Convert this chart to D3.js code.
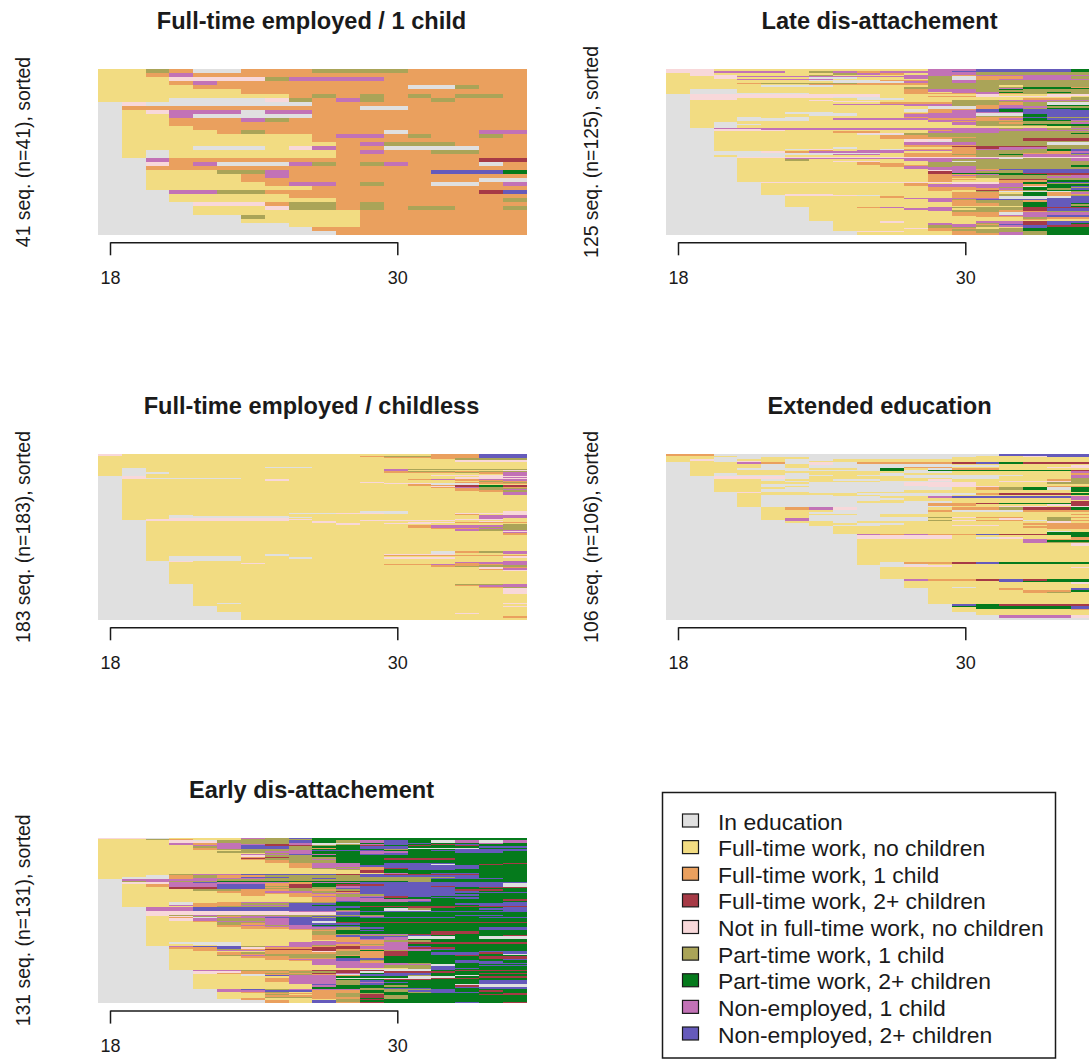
<!DOCTYPE html>
<html>
<head>
<meta charset="utf-8">
<script src="https://cdn.jsdelivr.net/npm/d3@7/dist/d3.min.js"></script>
<style>
  html, body { margin: 0; background: #fff; overflow: hidden; }
  svg { display: block; }
  text { font-family: "Liberation Sans", Arial, sans-serif; fill: #1a1a1a; }
</style>
</head>
<body>
<div id="chart"></div>
<script>
// state codes, one letter per year of age in the row strings below
const stateCodes = ["E", "F", "O", "T", "N", "P", "G", "M", "L"];
const stateLabels = ["In education", "Full-time work, no children", "Full-time work, 1 child",
  "Full-time work, 2+ children", "Not in full-time work, no children", "Part-time work, 1 child",
  "Part-time work, 2+ children", "Non-employed, 1 child", "Non-employed, 2+ children"];
const stateColors = ["#e0e0e0", "#f2dc82", "#eaa05e", "#a63a46", "#f8d8da", "#aaa458", "#057a1c", "#c272b6", "#655abb"];

const firstAge = 18;
const lastAge = 35;
const tickAges = [18, 30];

// rows top to bottom, "n:" in front means the same row n times
const fullTime1Child = [
  "FFPOEEOOOPPPPOOOOO","FFOMOOOOOOOOOOOOOO","FFFNNNNPMMMMOOOOOO","FFFOMOOOOOOOOOOOOO",
  "FFFFOOOOOOOOOEEPOO","FFFFFFOOOOOOOOOOOO","FFFFFFFFOPOPOPOPPO","FFFEEEENPOMPOOPOOO",
  "ENEEEEEEEOOOOOOOOO","EOOOOOOOOOOEEOOOOO","EFNMMMEMMOOOOOOOOO","EFFMEEEEEOOOOOOOOO",
  "EFFOOOMPOOOOOOOOOO","EFFOOOOOOOOOOOOOOO","EFFFOOOOOOOOOOOOOO","EFFFFOPOOOOOEOOOMM",
  "EFFFFFFFFOMMOPOOPO","EFFFFFFFFOOOOOOOOO","EFFFFFFFFFOMPPPOOO","EFFFEEEFNMOOEEEEOO",
  "EFEFFFFFFFOMOOPPOO","EFEFFFFFFFOOOOOOOO","EEMOOOOOOOOOOOOOTT","EENOMEEEMPOPMOOOEO",
  "EEOOOOOOOOOOOOOOOO","EEFFFPPMOOOOOOLLLG","EEFFFFOMOOOOOOOOOO","EEFFFFOOOOOOOOOOEE",
  "EEFFFFFOMMOPOOEEOM","EEFFFFFFFOOOOOOOOO","EEEMMPPOOOOOOOOOTL","EEEFFFFFOOOOOOOOOO",
  "EEEFFFFFFFOOOOOOOP","EEEENNNOPPOPOOOOOO","EEEEFFFNPPOPOPPOOP","EEEEFFFFFFFOOOOOOO",
  "EEEEEEPFFFFOOOOOOO","EEEEEEFFFFFOOOOOOO","EEEEEEEEFFFOOOOOOO","EEEEEEEEEOOOOOOOOO",
  "EEEEEEEEEEOOOOOOOO"
];

const lateDisattachment = [
  "NNFFFFFFFFFMMLLLLG","NNMMMFPMOMMMLLLLLG","NNMMMFPMOMMMMPPPPP","FNFFFFFPMOFMMPPPPP",
  "FNNFFFPFFFMMOMMMMM","FFNMMMMMMMMPEOOMMP","FFNFFFEEFFMPEOOMMP","FFFMMMMFFFFPEOMMMM",
  "FFFFFFEEEOOPMPPPPP","FFFFFFFEEEMPMPPPPP","FFFOPPPPOOOPPPPPPP","FFFFFFOOOOOPPPPPPP",
  "FFFFEEEFFFFPPPFPPP","FFFFFFFFFFPPPPPGGO","FFFFFFFFFFPPPPMGGG","FEEFFFFFFFOMMPGPPP",
  "FEEFFFFFFFOMMPPPPP","FEEFFFFFFFOFMMGPGP","FEEEEEFFFFOOOMOPPP",
  "ENNNNNNNNFFFFNFFNN","ENNNNNNNNFFOONNNNF","ENNNNNNEEFFFFFFFFP","ENNFFFFFEEFFFFFOOP",
  "EFFFFFNFFFFFPPMMMM","EFFFFFFNNFFFPPPMPP","EFFFFFFFFOOOPPOPEE","EFFFFFFMMMMMPPOPEE",
  "EFFFFFFFFFMMPOMPGG","EFFFFFFFFFFEEOMMPP","EFFFFFFFFFFEEOLPGG","EFFFFFFFFFEOOLGLLG",
  "EFFFFFFFFFEOMLGLLL","EFFFFEEFFFFOMMMLLL","EFFFFEEEFFOMMEELLL","EFFFFFEEFFMMMEEGLL",
  "EFFFFFFFFFMMMPPGLL","EFFEFEFFFFOMMOOLPP","EFFEEEFMMMMOOOMGLL","EFFEEEFFFFFMMOOGGM",
  "EFFFFFFFFFFMOPPPPP","EFEFFFFFFFFFMPOPPM","EFEEFFFFFFFFMPPGGG","EFEFFFFFFFFFFPPPGG",
  "EFEFFFFFFFFFFFFFFP",
  "EEMMMMMMMMMMMMPMPM","EENNMMMMMMMMMMMMPP","EENNNFFFFFFOMMMMMM","EEFFFFFOOFFMMMPPPP",
  "EEFFFFFFNNPPPPPPPG","EEFFFFFFEEPPPPPPPP","EEFFFFFFFOOPPPPPPP","EEFFFFFFFOOOOPPPPP",
  "EEFFFFFFFOOOPPPTTT","EEFFFFFFFFNNPPPTTT","EEFFFFFFFFNEPPPPPP","EEFFFFFFFFMMMPPPEE",
  "EEFFFFFFFFMMMPPPEE","EEFFFFFFFFOOOPPPPP","EEFFFFFFFFOOTTTTPP","EEFFFFFEFFFFOTMMPP",
  "EEFFFENFFEOOOMMPGL","EEFFFFOFMMMMOPPPGL","EEEENOMMMMFFOPPPOM","EEEEEEEEEFOOOPPOOL",
  "EEEEEEEMMFOOPPGMMP","EEFEEFFFFFOOOPPMMM",
  "EEENNNNNNNNNNNNNNN","EEEFFMMMMMMMMMEPPM","EEEFFPFFFFMMPPPPPM","EEEFFFFNNFFMEPPPPP",
  "EEEFFFFFOFFPPPPPPP","EEEFFFFFOOFPPPPPPP","EEEFFFFFFOOPPPPPPG","EEEFFFFFFOMPMPPPPG",
  "EEEFFFFFFFMMMPPPPP","EEEFFFFFFFFMMOLLLL","EEEFFFFFFFFNMMPLLL","EEEFFFFFFFFTMPPLLL",
  "EEEFFFFFFFFTGGGTTT","EEEFFFFFFFFOOMGGTT","EEEFFFFFFFFOMPPPPM","EEEFFFFFFFFOOPPPMM",
  "EEEFFFFFFFFOFFPPPP","EEEFFFFFFFFOOFTTPP","EEEFFFFFFFFOFFOOGG",
  "EEEENNNNNNNNNNOGLL","EEEEFFFFFFOFNNMGPP","EEEEFFFFFFOMMMMOGG","EEEEFFFFFFFMMMMNGL",
  "EEEEFFFFFFFOOMPGGP","EEEEFFFFFFFOOOMGPL","EEEEFFFFFFFOFTOPGG","EEEEFFFFFFFFFPEEEP",
  "EEEEFFFFFFFFOOFGOM","EEEEFNNFFFFFOOPGOO",
  "EEEEENNNEFFFOOPGOP","EEEEEFFFFOFFOOEEEL","EEEEEFFFFFMMMMEELL","EEEEEFFFFFFMPLLLLL",
  "EEEEEFFFFFFMOPPOLL","EEEEEFFFFFFFOPPGLL","EEEEEFFFFFFFOOPGLG","EEEEEFFFFFFFOOPGLP",
  "EEEEEFFFFFFFFFFGLG",
  "EEEEEEFFOMFMPPPTTT","EEEEEEFFFFMMFPPTLL","EEEEEEFFFFFMPPOTLL","EEEEEEFFFFFFPPOOPP",
  "EEEEEEFFFFFFOOEMMM","EEEEEEFFFFFFOOEMMM","EEEEEEFFFFFFOOMMLL","EEEEEEFFFFFFFOOMLL",
  "EEEEEEFFFFFFFFFPOO","EEEEEEFFFFFFFFFOFF","EEEEEEFFFFFFFFFFFF",
  "EEEEEEEFFNFFFMMTLL","EEEEEEEFFFFMFPMTLG","EEEEEEEFFFFMMOLTLT","EEEEEEEFFFFPMPMLTT",
  "EEEEEEEFFFFPPFFLGG","EEEEEEEFFFNOOFPGGG","EEEEEEEFFFFOPPPGGG",
  "EEEEEEEENNFFOPPPGG","EEEEEEEEFFFFOPMPGG","EEEEEEEEFFFFOOMPGG"
];

const fullTimeChildless = [
  "2:NFFFFFFFFFFFFFOOLL","FFFFFFFFFFFOPPOOLL","FFFFFFFFFFFFOOOOLL","FFFFFFFFFFFFFFOPPP",
  "FFFFFFFFFFFFFFFPPP","2:FFFFFFFFFFFFFFFNNN","FFFFFFFFFFFFFFFFFO","5:FFFFFFFFFFFFFFFFFF",
  "FFFFFFFEEFFFFFFFFF","FEFFFFFFFFFFFFFFFF","FEFFFFFFFFFFMPPPPP","FEFFFFFFFFFFMFFFFN",
  "FEFFFFFFFFFFFFFFFN","FEFFFFFFFFFFOPPOPP","FEEFFFFFFFFFOOOPOM","FEEFFFFFFFFFFFFFOM",
  "FEFFFFFFFFFFFFFFFM","FEFFFFFFFFFFFFNNNM",
  "ENFFFFFFFFFFFFFFNN","ENFFFFFFFFFFFFFNNM","ENEEEEFFFFFFFFFNNN","EFFFFFFNFFFFFOMOMM",
  "EFFFFFFNFFFFFFFOOM","EFFFFFFNFFFFFFFMMM","EFFFFFFFFFFFFFFFPO","EFFFFFFFFFFNFFFOOP",
  "EFFFFFFFFFFFNNEEOO","EFFFFFFFFFFFFOEEFF","EFFFFFFFFFFFFOOTGT","EFFFFFFFFFFFFFNTGT",
  "EFFFFFFFFFFFFFOMPO","EFFFFFFFFFFFFFFOPP","2:EFFFFFFFFFFFFFFOPM","EFFFFFFFFFFFFFFOOP",
  "EFFFFFFFFFFFFFFFOP","3:EFFFFFFFFFFFFFFFFM","4:EFFFFFFFFFFFFFFFFF","EFFFFFFFFFFFFFFFFT",
  "13:EFFFFFFFFFFFFFFFFF","2:EFFFFFFFFFFEEFFFFN","EFFFFFFFEENNEFFNNN","EFFFFFFFFFFFFFFOFN",
  "EFFEFFFFFFFFFFFFMM","EFFEEEEEFFFFFFFFMM","EFFEEEEEEFFFFFFFMM","EFFEEEEEEFFFFFFOFF",
  "EFFNNNNNFFFFFFFFMF","EFNNNNNNNFFFFFFNNF",
  "EENNNNNNFFFNNNNFFF","EEFFFFFFFNFFFFFFNF","EEFFFFFFFNFFFNNOOO","EEFFFFFFFFNFNNFFFF",
  "EEFFFFFFFFNFFFFFFP","2:EEFFFFFFFFFFFOMMMP","EEFFFFFFFFFFFOMMPP","EEFFFFFFFFFFFFOOPP",
  "EEFFFFFFFFFFFFOOMP","EEFFFFFFFFFFFFFMPP","EEFFFFFFFFFFFFFMPM","EEFFFFFFFFFFFFFFFN",
  "EEFFFFFFFFFFFFFFFM","2:EEFFFFFFFFFFFFFFFO","18:EEFFFFFFFFFFFFFFFF",
  "2:EEFFFFFFFFFFFFEOPM","EEFFFFFFFFFFFFEFFM","EEFFFFFEFFFFNNNFFF","EEFFFFFEFFFFOOOOOO",
  "EEFFFFFFFFFFFFFFFF","EEFEEEFFFFFFFFFFFN","EEFEEEFFEFFFNNNFFN","EEFEEEFFEFFFNNNFFF",
  "2:EEFEEEFFFFFFFFFFFF",
  "EEENFFFFFFFFFFFFFM","EEEFFFFFFFFFFFFMMM","EEEFFFNFFFFFFFFOMM","EEEFFFFFFFFFOOMOOM",
  "EEEFFFFFFFFFOMOOMM","EEEFFFFFFFFFFFOOPP","EEEFFFFFFFFFFFOPPP","EEEFFFFFFFFFFFFFNO",
  "EEEFFFFFFFFFFFFFNM","EEEFFFFFFFFFFFFFOM","EEEFFFFFFFFFFFFFFN","14:EEEFFFFFFFFFFFFFFF",
  "EEEEFFFFFFFFOPPPPP","EEEEFFFFFFFFFFFPPM","EEEEFFFFFFFFFFFOMM","EEEEFFFFFFFFFFFFMM",
  "EEEEFFFFFFFFFFFFOP","7:EEEEFFFFFFFFFFFFFN","9:EEEEFFFFFFFFFFFFFF","EEEEFFFFFFFFFFFFFN",
  "EEEEFEFFFFFFFFFFFN","2:EEEEFFFFFFFFFFFFFF",
  "EEEEEFFFFFFFFFFFFN","5:EEEEEFFFFFFFFFFFFF",
  "EEEEEENNFFFFFFFFFF","EEEEEEFFFFFFFFFFFF","EEEEEEFFFFFFFFFNFF","2:EEEEEEFFFFFFFFFFFF",
  "2:EEEEEEFFFFFFFFFFFO","2:EEEEEEFFFFFFFFFFFF"
];

const extendedEducation = [
  "OOEEEEEEEEEEEELLLL","FFFEEEEEEEEEEFFNLL","FFEEFFEEEEEEFFFFFF","FNEFFEEFFFFFFFFFFF",
  "FFENFEFFFFFFFFFFFF",
  "EFFMOENEOOOOTLGTTT","EFFFEFNEEEEEFFFFFF","EFFFEFEEEEEEEEFFFN","EFFFEFEEEEOOFFFFNN",
  "EFFEEEFFEGFEOOFFFF","EFFFFEEEEGEGGGGGGT","EFFFFFFFFFEEFFFFFM","EFEFFEFFFEFFFFFFFO",
  "EFEEEEEFEEEEEEEFFM",
  "EENNNEFFFFEEEEFFFM","EENNNEFFFFFFEEFFFP","EEFFEFFEEFFNFFFFOP","EEFFFEFFFEEEFFNNNP",
  "EEFFFFEEEENNNFFFPP","EEFFEEEEEENNNFFFFF","EEFFEFEEEEENNNFFOO","EEFFFEEEEEEEFOPGEG",
  "EEFFEEEEEEEEFOPGEG","EEFFEEEEEEFFFFFFFG",
  "EEENFFEEFFFFFFFFFF","EEEFFFFFEEEEEOTTTG","EEEFEEEFFEEEFFFFFF","EEEFEEEEEFFMLLLLLM",
  "EEEFEEEEEEFFFFFFFM","EEEFEEEEEFFFFFFFFF","EEEFEEEEFFEEFFFFFT","EEEFEEEEEEEOOTGGGT",
  "EEEFEEEEEEEOOFFFNT","EEEFEEEEEEEEFFNNFN",
  "EEEEFOMNEEEFOOPTTG","EEEEFOMNEEEFOOPTTG","EEEEFFFEEEEOEEEOOO","EEEEFFEEEEEFFFFFFF",
  "EEEEFFFFEFFFFFFFFO","EEEEFFEEEFFFFFFFFF","EEEEFFEEEEEPNOOFPO","EEEEFMEEEEEFFFNFPF",
  "EEEEEMEEEEEPNOOEPO","EEEEEFFEFFFFFFFFNF","EEEEEEFFEEFFFFFOOO","EEEEEEFEEFFFNNFFOO",
  "EEEEEEEFFFFFFFFOOO","EEEEEEEFFFFFFFFFOO","EEEEEEEFFFFFFFFFFF","EEEEEEEFFFFFFFFFEF",
  "EEEEEEEFFFFFFFFFGG",
  "EEEEEEEEMOMOOLTTGG","EEEEEEEENNNNFFFFFG","EEEEEEEENNNNFENFFO","EEEEEEEEFFFFFFFMOO",
  "EEEEEEEEFFFFFFFMGG","EEEEEEEEFFFFFFFMPP","2:EEEEEEEEFFFFFFFFFN","10:EEEEEEEEFFFFFFFFFF",
  "EEEEEEEEFEOOTLGGGG","EEEEEEEEFEEFFFFFFF","EEEEEEEEEENNFFFFFF","EEEEEEEEEFFFFFFFFN",
  "7:EEEEEEEEEFFFFFFFFF",
  "EEEEEEEEEEMOOTLTGG","EEEEEEEEEEFFFFLGGG","EEEEEEEEEEFFFFFFFN","2:EEEEEEEEEEFFFFFFFF",
  "EEEEEEEEEEFFEFFFFF",
  "EEEEEEEEEEEFFFOFFL","EEEEEEEEEEEFFFFOOG","EEEEEEEEEEEFFFFOPF","7:EEEEEEEEEEEFFFFFFF",
  "EEEEEEEEEEEELGTTTT","EEEEEEEEEEEEGGGGGL","EEEEEEEEEEEEFGGGGL","EEEEEEEEEEEEFFFFFO",
  "EEEEEEEEEEEEFFFFFF","2:EEEEEEEEEEEEEFFFFF","2:EEEEEEEEEEEEEEMMMN","EEEEEEEEEEEEEEEEEE"
];

const earlyDisattachment = [
  "NNEFFFMPLGGGGGGGGG","FFPOFFPPPGGGGGGGGG","FFFNEPPPLGPMLGEMEM","FFFNNPPPLGPMLGEMEM",
  "FFFMOMPPMEEGLLGGMG","FFFMOMMTMEPMLGTLGG","FFFFMMLTTPGTGTGTGG","FFFFPMLLPGGLLGGGLL",
  "FFFFOMLLPOGLLEEEGG","FFFFOPPPPGGGPGGLLL","FFFFFFPPMLLLGGLLLL","FFFFFPPMMGGMMGGLLG",
  "FFFFFFFPMGGMLGGGGG","FFFFFFMMLMGLLGGGGG","FFFFFFNPPGGGGGGGGG","FFFFFFOTPPGGGGGGGG",
  "FFFFFFTPPPGGTTTGGG","FFFFFFOPPMGGTTTGGG","2:FFFFFFFOPPGGGGGGGG","FFFFFFFFOMMGLLLGGT",
  "FFFFFFFFOMMGLLEGTG","FFFFFFFFOMMLLLLLGG","FFFFFFFFOMPOLLLLGG","FFFFFFFFFPMOTLLLGG",
  "FFFFFFFFFFPOGLLGGG","2:FFFFFFFFFFFTGGGGGG","FFFFFFFFFFFFMGLLGG","FFFPMMLLLLTLTTTTGG",
  "FFEOPOOPPPPLLLLLGG","FEEOPOLLPPPPPPPLGG","FEEOMMMPPLPPPPLLLG",
  "EMMMMPPPPPPPPPGGGG","EPMPPGGGGGGGGPGGGG","ENNMLMMMOMMLLLLLLL","ENNMMMMOOGGLLLLLLE",
  "EFOMMLLOTGTTLLLLLE","EFOMMLLPTGMLLLTLLE","EFFTTLLOTPMLLLLGTT","EFFTTLLPPPLLLLLGGG",
  "EFFFPPOOPOPLLLLTTG","EFFFFOOMMPTLLLLLGG","EFFFFOOMMPOLLLLLLL","EFFFFFOOOMMLLLLGGG",
  "EFFFFFOFOOPPLLLLGG","EFFFFFFFOMPMTLGGGG","EFFFFFFFFOMLTGLLGG","EFFFFFFFFOMMGGGLGG",
  "EFFFFFFFFOMMMMGGGT","EFFFFFFFFOLMMLGGGG","EFFEFOMMPPGGGGGGGL","EFFEOOPPLLGGGGGLLL",
  "EFFMOOMMLGGGGGGGLL","EFFFOPPPLLLTTTTTTT",
  "EEMMLLLLLLLGGTTGGL","EEMMLLLLLLGGEPGGLL","EEMMLLLLLLPGEEGGGL","EENNNNNNMMMLLLLLLL",
  "2:EENNNNNNNNLGGGGGGG","EENPMPPPPPPPGGGLLG","EEFNPOMMPLLMGGGGGG","EEFOEMMLLPGLLLLGLL",
  "2:EEFNMPPMLLGGGGGGGG","EEFFOMMMLEGGGGGGGG","EEFFFPPMLETTTTTTTT","EEFFFPOMLLLGGGGGGG",
  "EEFFFOMPMGGGGGGGGG","EEFFFOOMMLLGGGGGGG","EEFFFFOOMMPLGGGGLL","EEFFFFFFOPPGGGGGLL",
  "EEFFFFFFFOGLGGGGGG","2:EEFFFFFFFPGGGGTTGG","EEFFFFFFFPPMMTTGGG","EEFFFFFFFOLPPLGGGT",
  "EEFFFFFFFOLLLEEGEE","EEFFFFFFFOOLMEEGEE","EEFFFFFFFOOMMGGGGG","EEFFFFFFFFOOPPGGGG",
  "EEFFFFFFFMOOPPGGGG","EEFEEEFFMMMOMTTTTT","EEFFEEFFMMOPMGGGGG","EEFFFEFFMPOOMGGGGG",
  "EEEMLLPMMOTMMLGGGG","EEEOOLNOOTTMMTTGGG","EEEFOPOTTTOOMMLGGG","EEEFOMMOOTOGPMGGGG",
  "EEEFFFFOONPOTGGGLL","EEEFFOPOOOPOTGLLTL","EEEFFOOPPPPOTGLLGE","EEEFFPMPPPOOTGGTGG",
  "EEEFFFOOPPGOGGGGTT","EEEFFFFOOOLLGGGGTT","EEEFFFFOMMLLGGGGGL","EEEFFFFFOMLPGGGLGG",
  "EEEFFFFFFMMOGGGLLG","EEEFFFFFFMMMMPGGLL","EEEFFFFFFMMMMMEGGG","EEEFFFFFFFMMPPEGLL",
  "EEEFFFFFFFMMPPLGGG","EEEFFFFFFFFFFPLLGG","EEEFFFFFFFFEEELGGG",
  "EEEEMMPPOTTTEEGTTT","EEEENNOOPPTETTTGGG","EEEENOOPOTMGLLGGTT","EEEEFFEOPOELLLGGGG",
  "EEEEFFELMMOLLPGEGG","EEEEFFFFMMGGGEEGTT","EEEEFFFOMMEEEETTGG","EEEEFFFOMMGGTTGGGG",
  "EEEEFFFOMMPLGGGGLL","EEEEFFFFMMPMLGGGLL","EEEEFFFFMMPLGGGGLL","EEEEFFFFFLPLGGGEEE",
  "EEEEFFFFFMGGPGGTEE","EEEEFFFFFGGGGGGLLL","EEEEFFFFFGGPLLGGLL",
  "EEEEEMLPMMMPPPLGGG","EEEEEMMLLOOGPLLGTG","EEEEEFOPFOOGGPLLGG","EEEEEFFOOOPPGGGGGT",
  "EEEEEFFPFOPTGGGGTT","EEEEEFFOOOPTPGGGGG","EEEEEFFPPOOTPGGGGG","EEEEEFOFFOOGPGGGGG",
  "EEEEEEOFFFPTGGGGGG","EEEEEEEOFLPGGGGGGG","EEEEEEEOFLOTGGGLGT"
];

const panelTitles = ["Full-time employed / 1 child", "Late dis-attachement", "Full-time employed / childless",
  "Extended education", "Early dis-attachement"];
const panelCounts = [41, 125, 183, 106, 131];
const panelRows = [fullTime1Child, lateDisattachment, fullTimeChildless, extendedEducation, earlyDisattachment];

const width = 1089;
const height = 1059;
const panelWidth = 429;
const panelHeight = 165.4;
const panelLeft = [98, 666];
const panelTop = [69.3, 454.3, 837.6];

const color = d3.scaleOrdinal().domain(stateCodes).range(stateColors);

const svg = d3.select("#chart").append("svg")
    .attr("width", width)
    .attr("height", height);

// expand "n:row" into n copies
function expandRows(rows) {
    return rows.flatMap(r => {
        const parts = r.split(":");
        const seq = parts[parts.length - 1];
        if (seq.length !== lastAge - firstAge + 1) throw new Error("bad row " + r);
        return d3.range(parts.length > 1 ? +parts[0] : 1).map(() => seq);
    });
}

function drawPanel(i) {
    const rows = expandRows(panelRows[i]);
    if (rows.length !== panelCounts[i]) throw new Error("panel " + i + " has " + rows.length + " rows");

    const g = svg.append("g")
        .attr("transform", `translate(${panelLeft[i % 2]},${panelTop[Math.floor(i / 2)]})`);

    // one year is one column, columns are centred on the age
    const x = d3.scaleLinear().domain([firstAge, lastAge + 1]).range([11.9, 11.9 + 18 * 23.82]);
    const y = d3.scaleLinear().domain([0, rows.length]).range([0, panelHeight]);
    // the axis runs a little wider than the columns in the original
    const xAxis = d3.scaleLinear().domain(tickAges).range([12, 299.3]);

    const cells = rows.flatMap((seq, r) => seq.split("").map((s, c) => ({ r, age: firstAge + c, s })));

    g.append("g")
        .attr("shape-rendering", "crispEdges")
        .style("filter", "blur(0.6px)")
        .selectAll("rect")
        .data(cells)
        .join("rect")
        .attr("x", d => x(d.age - 0.5))
        .attr("width", d => x(d.age + 0.5) - x(d.age - 0.5) + 0.5)
        .attr("y", d => y(d.r))
        .attr("height", d => y(d.r + 1) - y(d.r) + 0.5)
        .attr("fill", d => color(d.s));

    const axis = g.append("g")
        .attr("transform", `translate(0,${panelHeight + 7.6})`)
        .call(d3.axisBottom(xAxis).tickValues(tickAges).tickFormat(d3.format("d"))
            .tickSize(13).tickPadding(16).tickSizeOuter(0));
    axis.selectAll("text").attr("font-size", 18).attr("font-family", null).style("fill", "#1a1a1a");
    axis.selectAll("path,line").attr("stroke", "#1a1a1a").attr("stroke-width", 1.5);

    g.append("text")
        .attr("x", panelWidth / 2 - 1)
        .attr("y", -40)
        .attr("text-anchor", "middle")
        .attr("font-size", 23.6)
        .attr("font-weight", "bold")
        .text(panelTitles[i]);

    g.append("text")
        .attr("transform", `translate(-68,${panelHeight / 2}) rotate(-90)`)
        .attr("text-anchor", "middle")
        .attr("font-size", 19.4)
        .text(`${panelCounts[i]} seq. (n=${panelCounts[i]}), sorted`);
}

d3.range(panelRows.length).forEach(drawPanel);

// legend
const legend = svg.append("g").attr("transform", "translate(662.5,792.5)");
legend.append("rect")
    .attr("width", 393)
    .attr("height", 265.5)
    .attr("fill", "#fff")
    .attr("stroke", "#1a1a1a")
    .attr("stroke-width", 1.5);

const legendY = d3.scaleLinear().domain([0, stateCodes.length - 1]).range([28, 241]);
const legendRow = legend.selectAll(".legend-row")
    .data(stateCodes)
    .join("g")
    .attr("class", "legend-row")
    .attr("transform", d => `translate(0,${legendY(stateCodes.indexOf(d))})`);
legendRow.append("rect")
    .attr("x", 20)
    .attr("y", -6.5)
    .attr("width", 16)
    .attr("height", 13)
    .attr("fill", d => color(d))
    .attr("stroke", "#1a1a1a")
    .attr("stroke-width", 1.2);
legendRow.append("text")
    .attr("x", 55.5)
    .attr("y", 9)
    .attr("font-size", 22.9)
    .text((d, i) => stateLabels[i]);
</script>
</body>
</html>
